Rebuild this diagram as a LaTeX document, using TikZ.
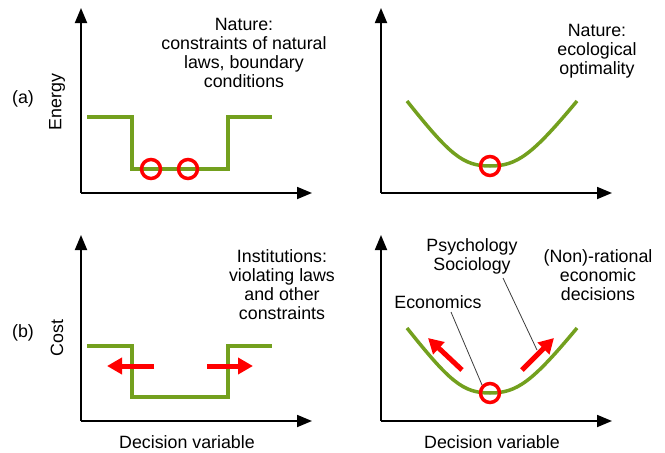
\documentclass[tikz,border=0pt]{standalone}
\usepackage{fontspec}
\setmainfont{Liberation Sans}
\usetikzlibrary{arrows.meta}
\definecolor{curvegreen}{RGB}{115,160,30}
\definecolor{leadergray}{RGB}{60,60,60}
\tikzset{
  axis/.style={line width=1.8pt,-{Triangle[length=15pt,width=12pt]}},
  curve/.style={draw=curvegreen,line width=3.5pt},
  optpt/.style={circle,draw=red,line width=3.5pt,minimum size=19pt,inner sep=0pt},
  push/.style={draw=red,line width=5pt,-{Triangle[length=15pt,width=16pt]}},
  lbl/.style={font=\fontsize{17.8}{19}\selectfont,align=center,inner sep=0pt},
  leader/.style={draw=leadergray,line width=0.8pt}
}
\begin{document}
\begin{tikzpicture}[x=1pt,y=-1pt]
\useasboundingbox (0,0) rectangle (665,453);
% ---------- (a) left ----------
\coordinate (a1o) at (81,193);
\coordinate (a1y) at (81,8);
\coordinate (a1x) at (312,193);
\draw[axis] (a1o) -- (a1y);
\draw[axis] (a1o) -- (a1x);
\draw[curve] (87,117) -- (132,117) -- (132,169) -- (228,169) -- (228,117) -- (272,117);
\node[optpt] (a1c1) at (151,169) {};
\node[optpt] (a1c2) at (188,169) {};
\node[lbl] (a1t) at (244,53) {Nature:\\constraints of natural\\laws, boundary\\conditions};
\node[lbl] (alab) at (23,99) {(a)};
\node[lbl,rotate=90] (aylab) at (57,102) {Energy};
% ---------- (a) right ----------
\coordinate (a2o) at (381,193);
\coordinate (a2y) at (381,8);
\coordinate (a2x) at (612,193);
\draw[axis] (a2o) -- (a2y);
\draw[axis] (a2o) -- (a2x);
\draw[curve] (407,101) .. controls (450,155) and (463,166) .. (490,166) .. controls (517,166) and (532,155) .. (577,101);
\node[optpt] (a2c) at (490,166) {};
\node[lbl] (a2t) at (597,51) {Nature:\\ecological\\optimality};
% ---------- (b) left ----------
\coordinate (b1o) at (81,421);
\coordinate (b1y) at (81,235);
\coordinate (b1x) at (312,421);
\draw[axis] (b1o) -- (b1y);
\draw[axis] (b1o) -- (b1x);
\draw[curve] (87,346) -- (132,346) -- (132,397) -- (228,397) -- (228,346) -- (272,346);
\coordinate (b1l0) at (154,366);
\coordinate (b1l1) at (107,366);
\coordinate (b1r0) at (207,366);
\coordinate (b1r1) at (253,366);
\draw[push] (b1l0) -- (b1l1);
\draw[push] (b1r0) -- (b1r1);
\node[lbl] (b1t) at (282,285) {Institutions:\\violating laws\\and other\\constraints};
\node[lbl] (blab) at (23,333) {(b)};
\node[lbl,rotate=90] (bylab) at (57,338) {Cost};
\node[lbl] (b1xl) at (187,442) {Decision variable};
% ---------- (b) right ----------
\coordinate (b2o) at (381,421);
\coordinate (b2y) at (381,235);
\coordinate (b2x) at (612,421);
\draw[axis] (b2o) -- (b2y);
\draw[axis] (b2o) -- (b2x);
\draw[curve] (407,328) .. controls (450,382) and (463,393) .. (490,393) .. controls (517,393) and (532,382) .. (577,328);
\node[optpt] (b2c) at (490,393) {};
\coordinate (b2l0) at (462,370);
\coordinate (b2l1) at (428,338);
\coordinate (b2r0) at (522,370);
\coordinate (b2r1) at (554,338);
\draw[push] (b2l0) -- (b2l1);
\draw[push] (b2r0) -- (b2r1);
\node[lbl] (psy) at (472,256) {Psychology\\Sociology};
\node[lbl] (eco) at (438,302) {Economics};
\node[lbl] (nonrat) at (598,275) {(Non)-rational\\economic\\decisions};
\node[lbl] (b2xl) at (492,442) {Decision variable};
\coordinate (psyend) at (537,350);
\draw[leader] (451,312) -- (b2c.north west);
\draw[leader] (503,278) -- (psyend);
\end{tikzpicture}
\end{document}
